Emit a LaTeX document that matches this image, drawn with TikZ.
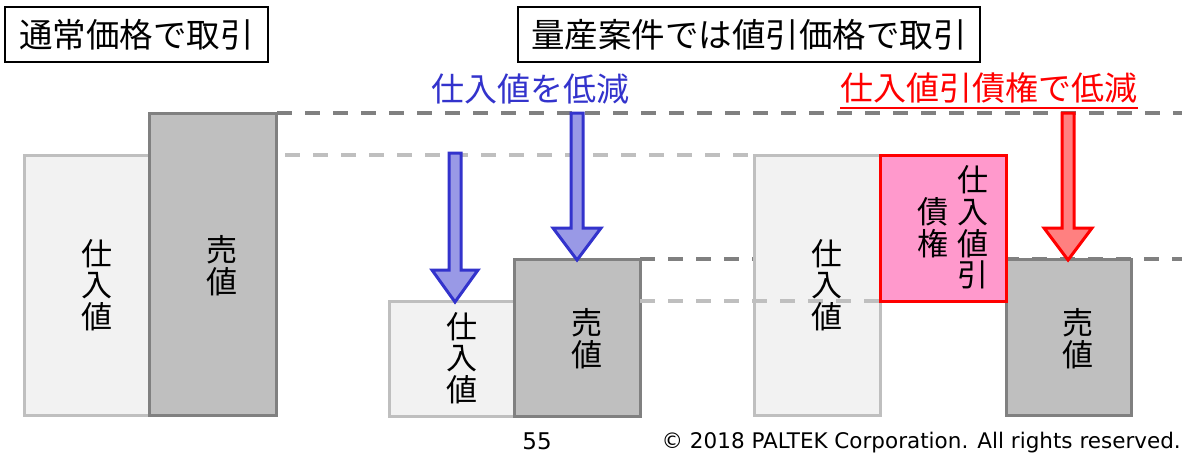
\documentclass[tikz,border=0pt]{standalone}
\usepackage{fontspec}
\newfontfamily\jp{Noto Sans CJK JP}
\newfontfamily\ftr{DejaVu Sans}
\definecolor{lgray}{HTML}{BFBFBF}
\definecolor{lfill}{HTML}{F2F2F2}
\definecolor{dgray}{HTML}{808080}
\definecolor{dfill}{HTML}{BFBFBF}
\definecolor{bluec}{HTML}{3333CC}
\definecolor{bluefill}{HTML}{9999E6}
\definecolor{redc}{HTML}{FF0000}
\definecolor{redfill}{HTML}{FF8080}
\definecolor{pinkfill}{HTML}{FF99CC}
\begin{document}
\begin{tikzpicture}[x=1pt,y=-1pt,
  boxbase/.style={anchor=north west, inner sep=0pt, outer sep=0pt, line width=3pt},
  lightbox/.style={boxbase, draw=lgray, fill=lfill},
  darkbox/.style={boxbase, draw=dgray, fill=dfill},
  pinkbox/.style={boxbase, draw=redc, fill=pinkfill},
  titlebox/.style={anchor=north west, inner sep=0pt, outer sep=0pt, draw=black, line width=1.5pt, fill=white, font=\jp\fontsize{33.5}{36}\selectfont},
  vtext/.style={align=center, inner sep=0pt, font=\jp\fontsize{31}{31.7}\selectfont},
  darkdash/.style={draw=dgray, line width=4pt, dash pattern=on 15pt off 13pt},
  lightdash/.style={draw=lgray, line width=4pt, dash pattern=on 15pt off 13pt},
  bluearrow/.style={draw=bluec, fill=bluefill, line width=3pt, line join=miter},
  redarrow/.style={draw=redc, fill=redfill, line width=3pt, line join=miter},
  lbl/.style={inner sep=0pt, font=\jp\fontsize{33}{36}\selectfont}
]
\useasboundingbox (0,0) rectangle (1185,453);
\fill[white] (0,0) rectangle (1185,453);

% titles
\node[titlebox, minimum width=263pt, minimum height=55pt] (t1) at (5,7) {通常価格で取引};
\node[titlebox, minimum width=462pt, minimum height=55pt] (t2) at (518,7) {量産案件では値引価格で取引};

\node[lbl, text=bluec] (bl) at (530,89) {仕入値を低減};
\node[lbl, text=redc] (rl) at (989,88) {仕入値引債権で低減};
\draw[redc, line width=2pt] (rl.south west) ++(0,4) coordinate (u1) -- (rl.south east |- u1);

% dashed level lines (behind)
\draw[darkdash] (277,113) -- (1182,113);
\draw[lightdash] (285,155) -- (754,155);
\draw[darkdash] (640,259) -- (1182,259);

% group 1
\node[lightbox, minimum width=125pt, minimum height=260pt] (p1) at (24,155) {};
\node[darkbox, minimum width=127pt, minimum height=302pt] (s1) at (149,113) {};
\node[vtext] (p1t) at (97,285) {仕\\入\\値};
\node[vtext] (s1t) at (222,266) {売\\値};

% group 2
\node[lightbox, minimum width=125pt, minimum height=115pt] (p2) at (389,301) {};
\node[darkbox, minimum width=126pt, minimum height=157pt] (s2) at (514,259) {};
\node[vtext] (p2t) at (462,358) {仕\\入\\値};
\node[vtext] (s2t) at (587,339) {売\\値};

% group 3
\node[lightbox, minimum width=126pt, minimum height=260pt] (p3) at (754,155) {};
\node[darkbox, minimum width=125pt, minimum height=156pt] (s3) at (1006,259) {};
\draw[lightdash] (640,301) -- (880,301);
\node[pinkbox, minimum width=126pt, minimum height=146pt] (k3) at (880,155) {};
\node[vtext] (p3t) at (827,285) {仕\\入\\値};
\node[vtext] (s3t) at (1078,339) {売\\値};
\node[vtext] (k3a) at (973,227.5) {仕\\入\\値\\引};
\node[vtext] (k3b) at (933,227.5) {債\\権};

% arrows
\draw[bluearrow] (449,153) -- (461,153) -- (461,270) -- (478,270) -- (455,302) -- (432,270) -- (449,270) -- cycle;
\draw[bluearrow] (571,113) -- (583,113) -- (583,228) -- (601,228) -- (577,260) -- (553,228) -- (571,228) -- cycle;
\draw[redarrow] (1062,113) -- (1074,113) -- (1074,228) -- (1092,228) -- (1068,260) -- (1044,228) -- (1062,228) -- cycle;

% footer
\node[inner sep=0pt, anchor=base, font=\ftr\fontsize{23}{25}\selectfont] (pg) at (537,449) {55};
\node[inner sep=0pt, anchor=base east, font=\ftr\fontsize{21.5}{24}\selectfont] (cp) at (1181,448) {© 2018 PALTEK Corporation. All rights reserved.};
\end{tikzpicture}
\end{document}
